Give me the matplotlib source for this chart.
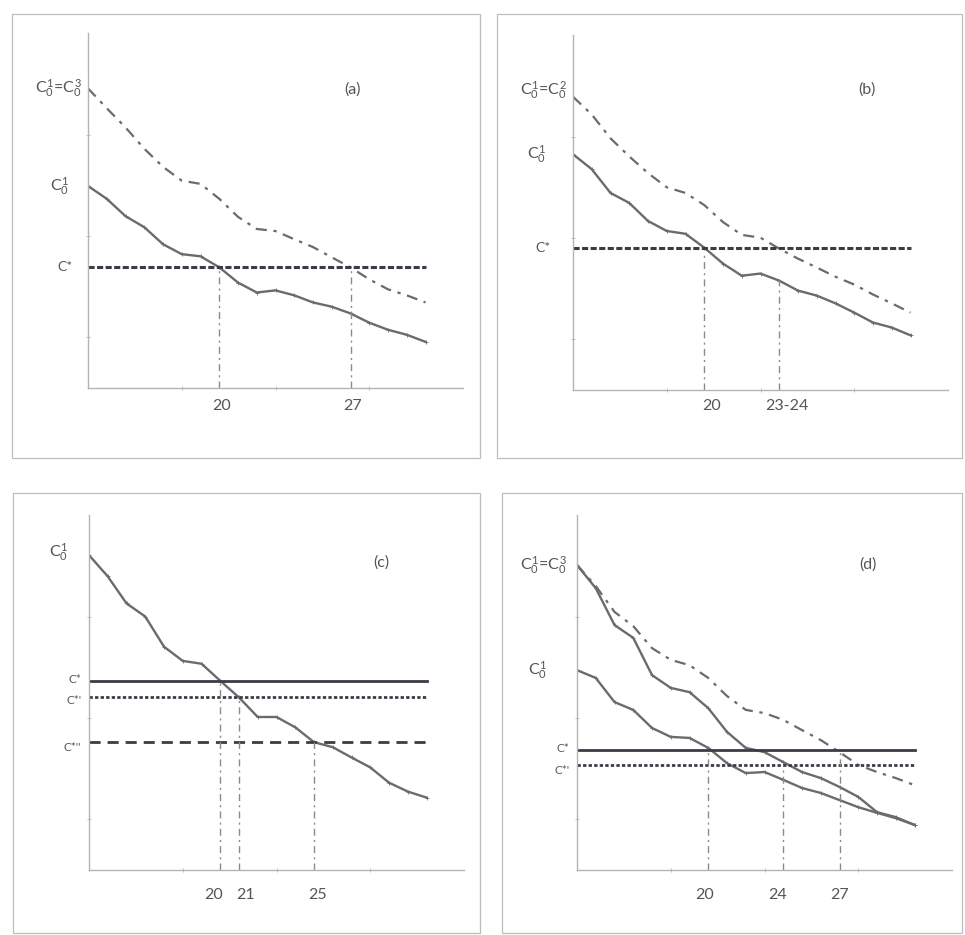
import matplotlib
matplotlib.use('Agg')
from matplotlib import pyplot as plt
from matplotlib.patches import Rectangle

plt.rcParams['font.family'] = ['Lato', 'DejaVu Sans']
plt.rcParams['mathtext.fontset'] = 'custom'
plt.rcParams['mathtext.rm'] = 'Lato'
plt.rcParams['mathtext.it'] = 'Lato'

periods = list(range(13, 32))

# panel (a)
a_c1 = [56.9, 53.3, 48.4, 45.3, 40.5, 37.7, 37.1, 34.0, 29.7, 26.9,
        27.5, 26.1, 24.1, 22.9, 21.0, 18.4, 16.4, 15.0, 13.0]
a_c3 = [84.4, 78.8, 73.4, 67.4, 62.3, 58.4, 57.5, 53.3, 48.2, 44.8,
        44.2, 41.9, 39.7, 36.8, 34.0, 30.6, 27.8, 26.1, 24.1]
a_cstar = 34.0
a_drop_x = [20, 27]
a_drop_top = [34.0, 34.0]
a_xlabels = ['20', '27']

# panel (b)
b_c1 = [66.4, 62.2, 55.5, 52.7, 47.6, 44.8, 44.0, 40.1, 35.6, 32.2,
        32.8, 30.8, 28.0, 26.6, 24.4, 21.8, 19.0, 17.6, 15.4]
b_c2 = [82.6, 77.6, 70.9, 65.8, 61.1, 57.1, 55.5, 52.1, 47.3, 43.7,
        42.9, 39.8, 37.0, 34.5, 31.9, 29.7, 26.9, 24.4, 21.8]
b_cstar = 40.1
b_drop_x = [20, 24]
b_drop_top = [38.0, 31.0]
b_xlabels = ['20', '23-24']

# panel (c)
c_c1 = [88.7, 82.7, 75.1, 71.4, 62.9, 58.9, 58.1, 53.3, 48.6, 43.1,
        43.1, 40.2, 36.0, 34.6, 31.7, 28.9, 24.6, 22.1, 20.4]
c_cstar = [53.3, 48.7, 36.0]
c_star_labels = ["C*", "C*'", "C*''"]
c_drop_x = [20, 21, 25]
c_drop_top = [53.3, 48.7, 36.0]
c_xlabels = ['20', '21', '25']

# panel (d)
d_c1 = [56.3, 54.1, 47.3, 45.1, 40.0, 37.5, 37.2, 34.4, 30.1, 27.3,
        27.6, 25.4, 23.1, 21.7, 19.7, 17.7, 16.1, 14.6, 12.7]
d_c3 = [85.9, 79.4, 69.0, 65.4, 54.9, 51.3, 50.1, 45.6, 38.9, 34.4,
        33.2, 30.4, 27.6, 25.9, 23.4, 20.6, 16.3, 14.9, 12.7]
d_c2 = [85.9, 80.0, 72.7, 68.7, 62.5, 59.2, 57.7, 54.1, 49.0, 45.1,
        44.2, 42.3, 39.4, 36.6, 33.2, 29.6, 27.6, 25.9, 23.9]
d_cstar = [33.8, 29.6]
d_star_labels = ["C*", "C*'"]
d_drop_x = [20, 24, 27]
d_drop_top = [33.8, 29.6, 33.8]
d_xlabels = ['20', '24', '27']

curve_col = '#6b6b6b'
star_col = '#3c3c48'
drop_col = '#8a8a8a'
axis_col = '#b4b4b4'
text_col = '#555555'
dashdot = (0, (5, 3, 1.5, 3))
W, H = 965, 935

fig = plt.figure(figsize=(W / 100, H / 100), dpi=100)

# scanned panel frames (pixel boxes)
for x0, y0, x1, y1 in [(12, 14, 480, 458), (497, 14, 962, 458),
                       (13, 493, 480, 933), (502, 493, 962, 933)]:
    fig.add_artist(Rectangle((x0 / W, 1 - y1 / H), (x1 - x0) / W, (y1 - y0) / H,
                             transform=fig.transFigure, fill=False,
                             edgecolor='#bdbdbd', lw=0.9))


def make_axes(left, bottom):
    ax = fig.add_axes([left / W, 1 - bottom / H, 375 / W, 355 / H])
    ax.set_xlim(13, 33)
    ax.set_ylim(0, 100)
    for s in ['top', 'right']:
        ax.spines[s].set_visible(False)
    for s in ['left', 'bottom']:
        ax.spines[s].set_color(axis_col)
        ax.spines[s].set_linewidth(1.0)
    ax.set_xticks([])
    ax.set_yticks([])
    ax.set_xticks([18, 23, 28], minor=True)
    ax.set_yticks([14.3, 42.9, 71.4], minor=True)
    ax.tick_params(which='minor', length=3, color=axis_col, direction='inout',
                   labelbottom=False, labelleft=False)
    return ax


def curve(ax, y, dashed=False):
    if dashed:
        ax.plot(periods, y, color=curve_col, lw=1.6, linestyle=dashdot)
    else:
        ax.plot(periods, y, color=curve_col, lw=1.7, marker='+', ms=3, mew=0.6)


def drops(ax, xs, tops):
    for x, t in zip(xs, tops):
        ax.plot([x, x], [0, t], color=drop_col, lw=1.0, linestyle=dashdot)


def xlabels(ax, xs, labels, y, shifts):
    for x, lab, dx in zip(xs, labels, shifts):
        ax.text(x + dx, y, lab, ha='center', va='center', fontsize=11.5,
                color=text_col, clip_on=False)


def ylabel(ax, x, y, s, size=11.5):
    ax.text(x, y, s, ha='right', va='center', fontsize=size, color=text_col,
            clip_on=False)


# (a)
ax = make_axes(88, 388)
curve(ax, a_c3, dashed=True)
curve(ax, a_c1)
ax.plot([periods[0], periods[-1]], [a_cstar, a_cstar], color=star_col, lw=2.2,
        linestyle=(0, (2, 0.8)))
drops(ax, a_drop_x, a_drop_top)
xlabels(ax, a_drop_x, a_xlabels, -5, [0.1, 0.1])
ylabel(ax, 12.7, a_c3[0], r'$C^1_0$=$C^3_0$')
ylabel(ax, 12.0, a_c1[0], r'$C^1_0$')
ylabel(ax, 12.2, a_cstar, r'C*', 10)
ax.text(27.1, 84, '(a)', ha='center', va='center', fontsize=11.5, color=text_col)

# (b)
ax = make_axes(573, 390)
curve(ax, b_c2, dashed=True)
curve(ax, b_c1)
ax.plot([periods[0], periods[-1]], [b_cstar, b_cstar], color=star_col, lw=2.2,
        linestyle=(0, (2, 0.8)))
drops(ax, b_drop_x, b_drop_top)
xlabels(ax, b_drop_x, b_xlabels, -4.5, [0.4, 0.4])
ylabel(ax, 12.7, 84.5, r'$C^1_0$=$C^2_0$')
ylabel(ax, 11.6, b_c1[0], r'$C^1_0$')
ylabel(ax, 11.8, b_cstar, r'C*', 10)
ax.text(28.7, 84.5, '(b)', ha='center', va='center', fontsize=11.5, color=text_col)

# (c)
ax = make_axes(89, 870)
curve(ax, c_c1)
c_styles = ['-', (0, (1.2, 0.8)), (0, (4, 2.5))]
for v, ls in zip(c_cstar, c_styles):
    ax.plot([periods[0], periods[-1]], [v, v], color=star_col, lw=2.0, linestyle=ls)
drops(ax, c_drop_x, c_drop_top)
xlabels(ax, c_drop_x, c_xlabels, -7, [-0.35, 0.35, 0.2])
ylabel(ax, 11.9, c_c1[0] + 1, r'$C^1_0$')
for v, lab, dy in zip(c_cstar, c_star_labels, [0.5, -1.0, -1.5]):
    ylabel(ax, 12.6, v + dy, lab, 8.5)
ax.text(28.6, 86.5, '(c)', ha='center', va='center', fontsize=11.5, color=text_col)

# (d)
ax = make_axes(577, 870)
curve(ax, d_c2, dashed=True)
curve(ax, d_c3)
curve(ax, d_c1)
d_styles = ['-', (0, (1.2, 0.8))]
for v, ls in zip(d_cstar, d_styles):
    ax.plot([periods[0], periods[-1]], [v, v], color=star_col, lw=2.0, linestyle=ls)
drops(ax, d_drop_x, d_drop_top)
xlabels(ax, d_drop_x, d_xlabels, -7, [-0.2, -0.3, 0.0])
ylabel(ax, 12.5, d_c3[0], r'$C^1_0$=$C^3_0$')
ylabel(ax, 11.4, d_c1[0], r'$C^1_0$')
for v, lab, dy in zip(d_cstar, d_star_labels, [0.5, -1.5]):
    ylabel(ax, 12.6, v + dy, lab, 8.5)
ax.text(28.5, 86, '(d)', ha='center', va='center', fontsize=11.5, color=text_col)

plt.savefig('out.png', dpi=100)
